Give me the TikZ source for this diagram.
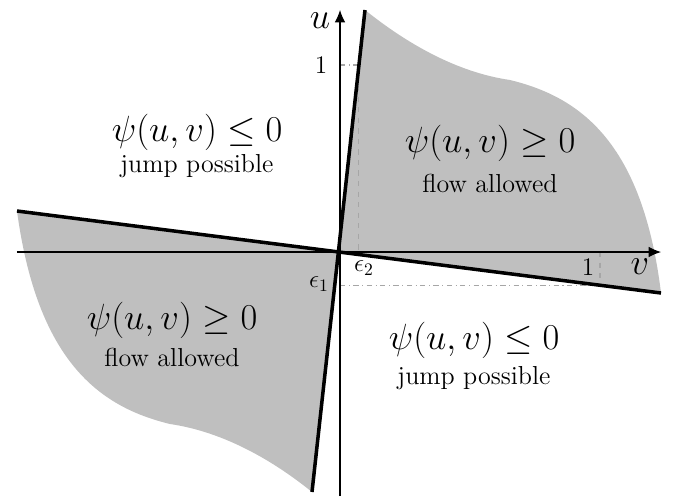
\documentclass[tikz,border=0pt]{standalone}
\usepackage{amsmath,amssymb}
\usetikzlibrary{arrows.meta}

\begin{document}
\begin{tikzpicture}[>={Latex[length=7pt,width=6pt]},region/.style={fill=black!25},bound/.style={line width=2pt},guide/.style={black!35,semithick},
  big/.style={font=\fontsize{21}{24}\selectfont},small/.style={font=\fontsize{14.8}{18}\selectfont}]
\useasboundingbox (-6.8,-4.88) rectangle (6.86,5.04);
\coordinate (O) at (0,0);\coordinate (sT) at (0.5,4.84);\coordinate (sB) at (-0.56,-4.8);\coordinate (fL) at (-6.46,0.82);\coordinate (fR) at (6.42,-0.82);
% shaded regions
\fill[region] (O)--(sT).. controls (1.3,4.2) and (2.3,3.6)..(3.4,3.44).. controls (4.8,3.1) and (6.05,2.2)..(fR)--cycle;
\fill[region] (O)--(fL).. controls (-6.05,-2.2) and (-4.8,-3.1)..(-3.4,-3.44).. controls (-2.3,-3.6) and (-1.3,-4.2)..(sB)--cycle;
% guides
\coordinate (u1) at (0,3.74);\coordinate (e2u) at (0.37,3.74);\coordinate (e2) at (0.37,0);
\coordinate (e1) at (0,-0.67);\coordinate (v1e) at (5.2,-0.67);\coordinate (v1) at (5.2,0);
\draw[guide,dash dot] (u1)--(e2u);\draw[guide,dashed] (e2u)--(e2);
\draw[guide,dash dot] (e1)--(v1e);\draw[guide,dashed] (v1)--(v1e);
% axes
\coordinate (vL) at (-6.46,0);\coordinate (vR) at (6.42,0);\coordinate (uB) at (0,-4.88);\coordinate (uT) at (0,4.84);
\draw[->,semithick] (vL)--(vR);\draw[->,semithick] (uB)--(uT);
% switching lines
\draw[bound] (sB)--(sT);\draw[bound] (fL)--(fR);
\node[big] (ulab) at (-0.4,4.62){$u$};\node[big] (vlab) at (6.0,-0.3){$v$};
\node[small] (one1) at (-0.38,3.74){$1$};\node[small] (one2) at (4.96,-0.3){$1$};
\node[small] (eps1) at (-0.42,-0.64){$\epsilon_1$};\node[small] (eps2) at (0.48,-0.32){$\epsilon_2$};
\node[big] (jpA) at (-2.86,2.4){$\psi(u,v)\leq 0$};\node[small] (jpAt) at (-2.86,1.72){jump possible};
\node[big] (flA) at (3.0,2.18){$\psi(u,v)\geq 0$};\node[small] (flAt) at (3.0,1.38){flow allowed};
\node[big] (flB) at (-3.36,-1.36){$\psi(u,v)\geq 0$};\node[small] (flBt) at (-3.36,-2.1){flow allowed};
\node[big] (jpB) at (2.68,-1.76){$\psi(u,v)\leq 0$};\node[small] (jpBt) at (2.68,-2.52){jump possible};
\end{tikzpicture}
\end{document}
